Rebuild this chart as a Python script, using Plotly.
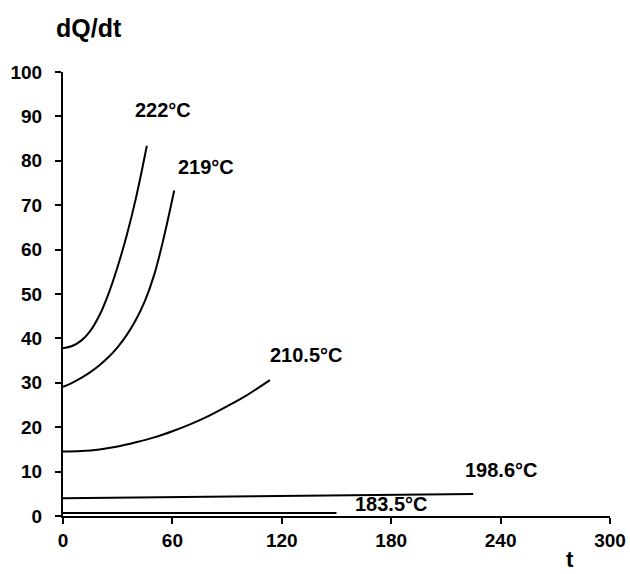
import plotly.graph_objects as go

# Heat-release rate dQ/dt versus time t at several temperatures
t_222 = [0, 5, 10, 15, 20, 25, 30, 35, 40, 46]
q_222 = [37.8, 38.3, 39.5, 41.7, 45.2, 50.1, 56.2, 63.3, 71.6, 83.4]

t_219 = [0, 5, 10, 15, 20, 25, 30, 35, 40, 45, 50, 55, 61]
q_219 = [29.1, 30.0, 31.1, 32.4, 33.95, 35.8, 38.05, 40.8, 44.2, 48.5, 54.3, 62.2, 73.3]

t_2105 = [0, 10, 20, 30, 40, 50, 60, 70, 80, 90, 100, 113.5]
q_2105 = [14.5, 14.63, 15.0, 15.65, 16.6, 17.7, 19.1, 20.7, 22.55, 24.7, 27.0, 30.6]

t_1986 = [0, 225]
q_1986 = [4.0, 4.95]

t_1835 = [0, 150]
q_1835 = [0.7, 0.7]

labels = ["222°C", "219°C", "210.5°C", "198.6°C", "183.5°C"]
label_t = [54.7, 78.3, 133.3, 240.3, 180.4]
label_q = [91.4, 78.5, 36.3, 10.4, 2.6]

x_ticks = [0, 60, 120, 180, 240, 300]
y_ticks = [0, 10, 20, 30, 40, 50, 60, 70, 80, 90, 100]

FONT = "Liberation Sans, Arial, sans-serif"

fig = go.Figure()
for tt, qq in [(t_222, q_222), (t_219, q_219), (t_2105, q_2105),
               (t_1986, q_1986), (t_1835, q_1835)]:
    fig.add_trace(go.Scatter(x=tt, y=qq, mode="lines",
                             line=dict(color="black", width=2, shape="spline", smoothing=1),
                             showlegend=False, hoverinfo="skip"))

for txt, xt, yq in zip(labels, label_t, label_q):
    fig.add_annotation(x=xt, y=yq, xref="x", yref="y", text=txt,
                       xanchor="center", yanchor="middle", showarrow=False,
                       font=dict(family=FONT, size=20, color="black", weight="bold"))

fig.add_annotation(x=0.047, y=1.099, xref="paper", yref="paper", text="dQ/dt",
                   xanchor="center", yanchor="middle", showarrow=False,
                   font=dict(family=FONT, size=25, color="black", weight="bold"))
fig.add_annotation(x=0.927, y=-0.1306, xref="paper", yref="paper", text="t",
                   xanchor="center", yanchor="bottom", showarrow=False,
                   font=dict(family=FONT, size=22, color="black", weight="bold"))

axis_common = dict(showgrid=False, zeroline=False, showline=True, linecolor="black",
                   linewidth=2, ticks="outside", ticklen=6, tickwidth=2, tickcolor="black",
                   automargin=False,
                   tickfont=dict(family=FONT, size=19, color="black", weight="bold"))

fig.update_xaxes(range=[0, 300], tickvals=x_ticks, ticklabelstandoff=0, **axis_common)
fig.update_yaxes(range=[0, 100], tickvals=y_ticks, ticklabelstandoff=9, **axis_common)

fig.update_layout(width=630, height=574, plot_bgcolor="white", paper_bgcolor="white",
                  margin=dict(l=63, r=20, t=72, b=58))

fig.write_html("out.html")
